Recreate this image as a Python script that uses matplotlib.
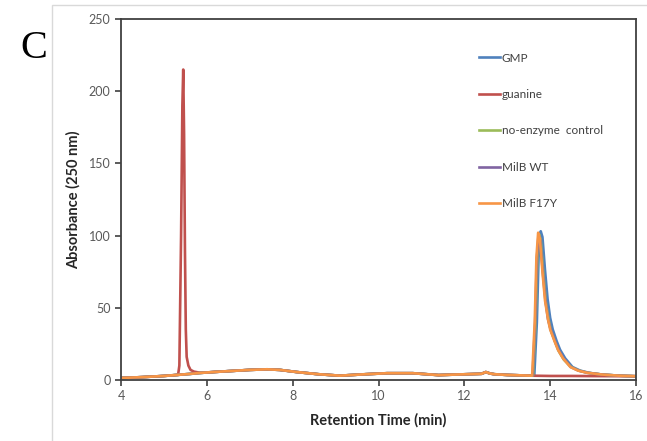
import matplotlib
matplotlib.use("Agg")
import matplotlib.pyplot as plt
from matplotlib.patches import Rectangle

# shared baseline (min, absorbance)
base_t = [4.0, 4.5, 5.0, 5.3]
base_a = [1.4, 2.0, 2.8, 3.5]
mid_t = [5.6, 5.85, 6.2, 6.6, 7.0, 7.4, 7.7, 8.1, 8.6, 9.1, 9.7, 10.2, 10.8,
         11.4, 12.05, 12.4, 12.5, 12.6, 12.7, 13.0, 13.55]
mid_a = [4.2, 4.9, 5.6, 6.3, 7.0, 7.4, 7.0, 5.5, 4.0, 3.0, 4.0, 4.7, 4.7,
         3.4, 4.0, 4.3, 5.5, 4.5, 4.0, 3.5, 3.0]

# guanine: early peak, flat at the end
guan_peak_t = [5.33, 5.36, 5.40, 5.43, 5.45, 5.47, 5.49, 5.51, 5.53, 5.57, 5.62, 5.70, 5.85]
guan_peak_a = [3.5, 10, 100, 190, 215, 170, 90, 35, 16, 10, 7, 5.8, 5.0]
guan_mid_t = [6.2, 6.6, 7.0, 7.4, 7.7, 8.1, 8.6, 9.1, 9.7, 10.2, 10.8,
              11.4, 12.05, 12.4, 12.5, 12.6, 12.7, 13.0, 13.55]
guan_mid_a = [5.6, 6.3, 7.0, 7.4, 7.0, 5.5, 4.0, 3.0, 4.0, 4.7, 4.7,
              3.4, 4.0, 4.3, 5.5, 4.5, 4.0, 3.5, 3.0]
guan_end_t = [14.0, 14.5, 15.0, 16.0]
guan_end_a = [2.8, 2.8, 2.7, 2.6]

# late peaks
gmp_peak_t = [13.63, 13.69, 13.73, 13.78, 13.82, 13.88, 13.94, 14.0, 14.06, 14.15,
              14.23, 14.35, 14.52, 14.7, 14.9, 15.2, 15.6, 16.0]
gmp_peak_a = [3, 40, 85, 103, 99, 76, 56, 43, 35, 27, 21, 15, 9, 6.5, 5, 3.8, 3, 2.6]
ctrl_peak_t = [13.6, 13.66, 13.7, 13.74, 13.78, 13.84, 13.9, 13.96, 14.02, 14.12,
               14.2, 14.32, 14.49, 14.67, 14.88, 15.2, 15.6, 16.0]
ctrl_peak_a = [3, 40, 84, 101, 97, 74, 54, 42, 34, 26, 20, 14, 9, 6.5, 5, 3.8, 3, 2.6]
wt_peak_t = [13.59, 13.65, 13.69, 13.73, 13.77, 13.83, 13.89, 13.95, 14.01, 14.11,
             14.19, 14.31, 14.48, 14.66, 14.87, 15.2, 15.6, 16.0]
wt_peak_a = [3, 40, 84, 101, 97, 74, 55, 42, 35, 27, 21, 15, 9, 6.5, 5, 3.8, 3, 2.6]
f17y_peak_t = [13.58, 13.64, 13.68, 13.72, 13.76, 13.82, 13.88, 13.95, 14.0, 14.1,
               14.18, 14.3, 14.47, 14.65, 14.86, 15.2, 15.6, 16.0]
f17y_peak_a = [3, 40, 85, 102, 98, 75, 55, 42, 35, 27, 21, 15, 9, 6.5, 5, 3.8, 3, 2.6]

labels = ["GMP", "guanine", "no-enzyme  control", "MilB WT", "MilB F17Y"]
colors = ["#4F81BD", "#C0504D", "#9BBB59", "#8064A2", "#F79646"]

series = [
    (base_t + mid_t + gmp_peak_t, base_a + mid_a + gmp_peak_a),
    (base_t + guan_peak_t + guan_mid_t + guan_end_t,
     base_a + guan_peak_a + guan_mid_a + guan_end_a),
    (base_t + mid_t + ctrl_peak_t, base_a + mid_a + ctrl_peak_a),
    (base_t + mid_t + wt_peak_t, base_a + mid_a + wt_peak_a),
    (base_t + mid_t + f17y_peak_t, base_a + mid_a + f17y_peak_a),
]

plt.rcParams["font.family"] = ["Lato", "DejaVu Sans"]

fig = plt.figure(figsize=(6.47, 4.41), dpi=100)
fig.patches.append(Rectangle((52 / 647, -0.01), 1.0, 1 - 5 / 441 + 0.01,
                             transform=fig.transFigure, fill=False,
                             edgecolor="#d9d9d9", linewidth=1.0))
ax = fig.add_axes([121 / 647, 1 - 380 / 441, (636 - 121) / 647, (380 - 19) / 441])

for (t, a), lab, c in zip(series, labels, colors):
    ax.plot(t, a, color=c, lw=1.9, label=lab, solid_joinstyle="round")

ax.set_xlim(4, 16)
ax.set_ylim(0, 250)
ax.set_xticks(range(4, 17, 2))
ax.set_yticks(range(0, 251, 50))
for s in ax.spines.values():
    s.set_color("#404040")
    s.set_linewidth(1.3)
ax.tick_params(direction="out", length=4, width=1.2, color="#404040",
               labelcolor="#595959", labelsize=9)
ax.set_xlabel("Retention Time (min)", fontsize=10.5, fontweight="bold",
              color="#262626", labelpad=8)
ax.set_ylabel("Absorbance (250 nm)", fontsize=10.5, fontweight="bold",
              color="#262626", labelpad=6)

ax.legend(loc="upper left", bbox_to_anchor=(468 / 647, 1 - 42 / 441),
          bbox_transform=fig.transFigure, frameon=False, fontsize=8.5,
          labelspacing=2.15, handlelength=1.8, handletextpad=0.15,
          labelcolor="#404040")

fig.text(20 / 647, 1 - 48 / 441, "C", family="Liberation Serif", fontsize=29,
         va="center", ha="left")

fig.savefig("out.png", dpi=100)
